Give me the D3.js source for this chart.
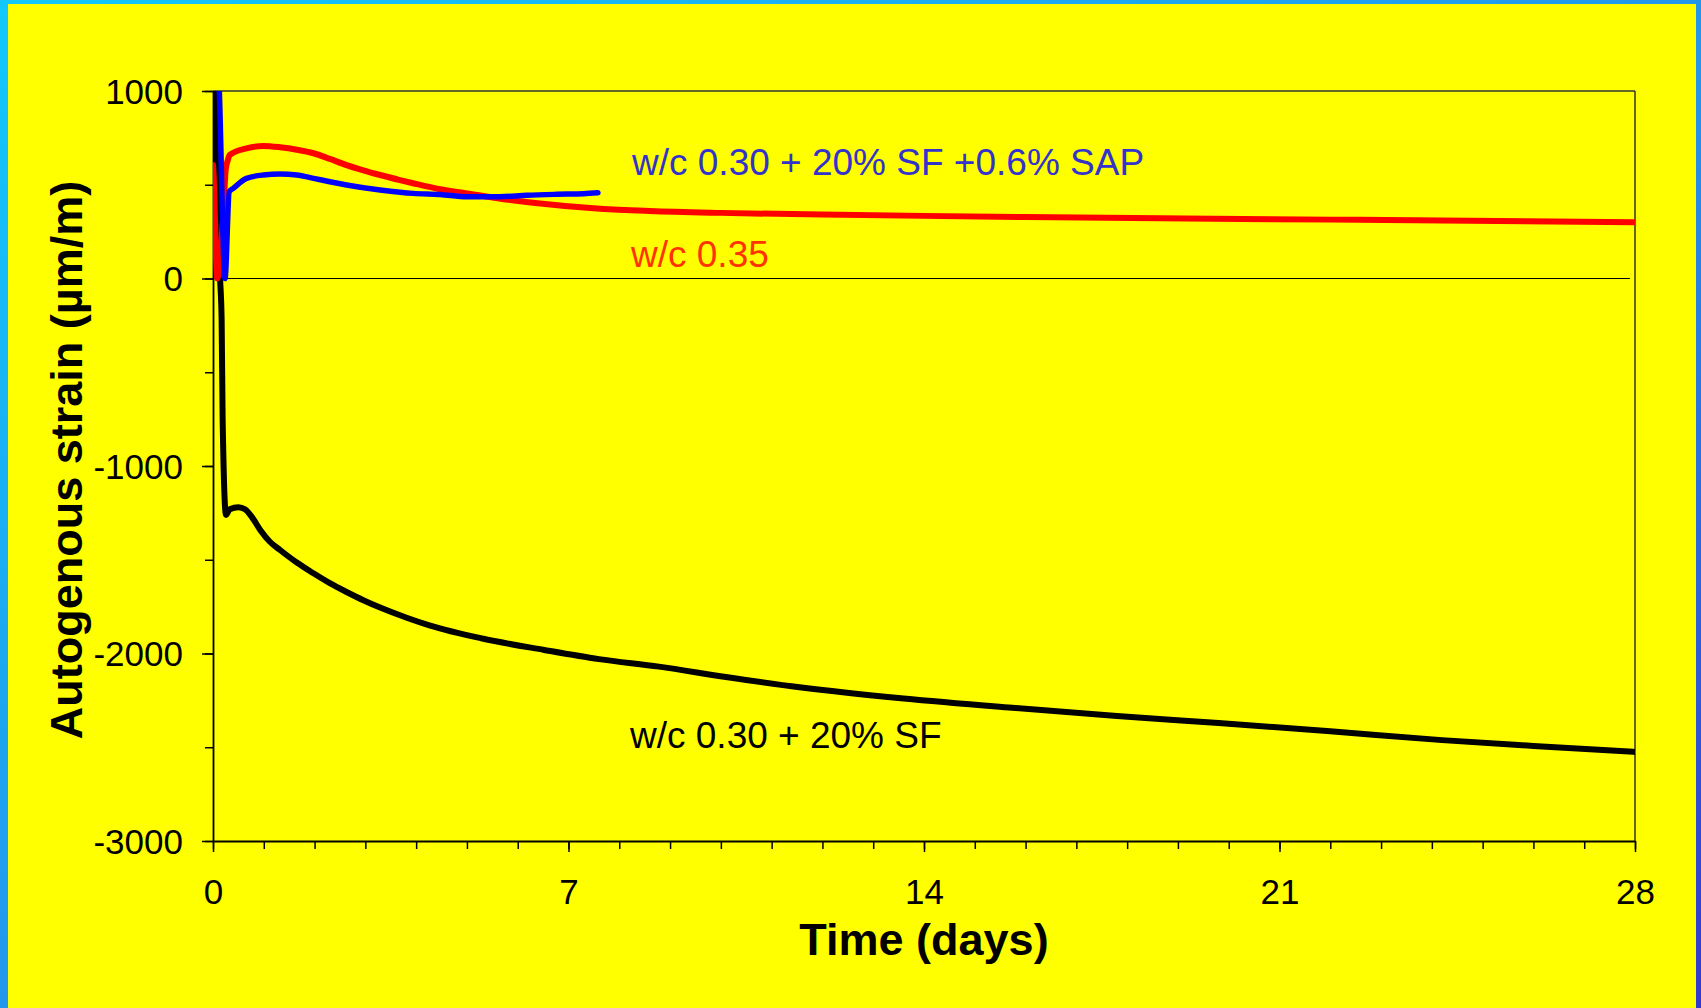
<!DOCTYPE html>
<html>
<head>
<meta charset="utf-8">
<script src="https://cdn.jsdelivr.net/npm/d3@7"></script>
<style>
  html, body { margin: 0; padding: 0; overflow: hidden; }
  svg { display: block; }
  text { font-family: "Liberation Sans", Arial, sans-serif; }
</style>
</head>
<body>
<svg id="chart" width="1701" height="1008"></svg>
<script>
// ---------- data ----------
const xTickLabels = [0, 7, 14, 21, 28];
const yTickLabels = [-3000, -2000, -1000, 0, 1000];

// w/c 0.35 (red)
const redDays   = [0, 0.01, 0.085, 0.2, 0.25, 0.29, 0.33, 0.66, 0.99, 1.32, 1.65, 1.98, 2.3, 2.63, 2.96, 3.29, 3.68, 3.94, 4.47, 5.0, 5.6, 6.3, 7.62, 8.6, 10, 12, 14, 16, 18.65, 22, 25.3, 28];
const redStrain = [605, 560, 0, 330, 580, 630, 659, 694, 707, 700, 687, 668, 638, 605, 577, 552, 525, 508, 476, 454, 428, 404, 372, 360, 350, 341, 334, 328, 321, 314, 307, 300];

// w/c 0.30 + 20% SF + 0.6% SAP (blue)
const blueDays   = [0.08, 0.125, 0.236, 0.32, 0.4, 0.66, 0.99, 1.32, 1.65, 1.98, 2.3, 2.63, 3.29, 3.68, 3.94, 4.47, 5.0, 5.65, 6.18, 6.77, 7.3, 7.58];
const blueStrain = [1300, 996, 0, 463, 481, 534, 552, 557, 552, 534, 516, 499, 472, 460, 454, 448, 436, 436, 444, 449, 452, 457];

// w/c 0.30 + 20% SF (black)
const blackDays   = [0.01, 0.04, 0.14, 0.17, 0.19, 0.256, 0.33, 0.5, 0.63, 0.76, 0.93, 1.12, 1.32, 1.65, 1.97, 2.3, 2.63, 2.96, 3.29, 3.8, 4.26, 5.3, 6.52, 7.6, 8.78, 10.1, 11.55, 13.6, 15.8, 17.8, 19.8, 22, 24.2, 26, 28];
const blackStrain = [1300, 1000, 0, -221, -754, -1261, -1231, -1220, -1231, -1270, -1341, -1404, -1448, -1515, -1571, -1625, -1672, -1716, -1755, -1808, -1850, -1920, -1981, -2030, -2070, -2125, -2180, -2240, -2291, -2333, -2371, -2415, -2462, -2493, -2525];

const seriesLabels = ["w/c 0.30 + 20% SF +0.6% SAP", "w/c 0.35", "w/c 0.30 + 20% SF"];

// ---------- drawing ----------
const svg = d3.select("#chart");
const W = 1701, H = 1008;

const defs = svg.append("defs");
const grad = defs.append("linearGradient").attr("id", "bg")
  .attr("x1", "0%").attr("y1", "0%").attr("x2", "100%").attr("y2", "100%");
grad.append("stop").attr("offset", "0%").attr("stop-color", "#12c8fb");
grad.append("stop").attr("offset", "55%").attr("stop-color", "#2592ea");
grad.append("stop").attr("offset", "100%").attr("stop-color", "#3338cc");

svg.append("rect").attr("width", W).attr("height", H).attr("fill", "url(#bg)");
svg.append("rect").attr("x", 8).attr("y", 4).attr("width", 1688).attr("height", H - 4).attr("fill", "#ffff00");

const x = d3.scaleLinear().domain([0, 28]).range([213, 1635]);
const y = d3.scaleLinear().domain([-3000, 1000]).range([841, 91]);

defs.append("clipPath").attr("id", "plotClip").append("rect")
  .attr("x", x(0)).attr("y", y(1000)).attr("width", x(28) - x(0)).attr("height", y(-3000) - y(1000));

// frame (top and right)
svg.append("line").attr("x1", x(0)).attr("x2", x(28)).attr("y1", y(1000)).attr("y2", y(1000))
  .attr("stroke", "#333").attr("stroke-width", 1.5);
svg.append("line").attr("x1", x(28)).attr("x2", x(28)).attr("y1", y(1000)).attr("y2", y(-3000))
  .attr("stroke", "#333").attr("stroke-width", 1.5);

// zero line
svg.append("line").attr("x1", x(0)).attr("x2", x(27.9)).attr("y1", y(0)).attr("y2", y(0))
  .attr("stroke", "#000").attr("stroke-width", 1.2);

// minor ticks
const yMinor = d3.range(-3000, 1001, 500);
const xMinor = d3.range(0, 29, 1);
const yMinorAxis = svg.append("g").attr("transform", `translate(${x(0)},0)`)
  .call(d3.axisLeft(y).tickValues(yMinor).tickSize(8).tickFormat(""));
yMinorAxis.select(".domain").remove();
const xMinorAxis = svg.append("g").attr("transform", `translate(0,${y(-3000)})`)
  .call(d3.axisBottom(x).tickValues(xMinor).tickSize(8).tickFormat(""));
xMinorAxis.select(".domain").remove();

// major axes
const fmt = d => String(d);
const yAxis = svg.append("g").attr("transform", `translate(${x(0)},0)`)
  .call(d3.axisLeft(y).tickValues(yTickLabels).tickSize(11).tickSizeOuter(0).tickPadding(19).tickFormat(fmt));
const xAxis = svg.append("g").attr("transform", `translate(0,${y(-3000)})`)
  .call(d3.axisBottom(x).tickValues(xTickLabels).tickSize(11).tickSizeOuter(0).tickPadding(0).tickFormat(fmt));

svg.selectAll(".tick line").attr("stroke", "#000").attr("stroke-width", 1.5);
svg.selectAll(".domain").attr("stroke", "#000").attr("stroke-width", 1.8);
yAxis.selectAll("text").attr("font-size", 35).attr("font-family", "Liberation Sans, Arial, sans-serif").attr("fill", "#000").attr("dy", "0.35em");
xAxis.selectAll("text").attr("font-size", 35).attr("font-family", "Liberation Sans, Arial, sans-serif").attr("fill", "#000")
  .attr("dy", null).attr("y", 63);

// lines
const line = d3.line().x(d => x(d[0])).y(d => y(d[1])).curve(d3.curveMonotoneX);
const plot = svg.append("g").attr("clip-path", "url(#plotClip)");
const series = [
  { days: blackDays, vals: blackStrain, color: "#000000", w: 6 },
  { days: redDays, vals: redStrain, color: "#ff0000", w: 6 },
  { days: blueDays, vals: blueStrain, color: "#0000ff", w: 5.5 }
];
series.forEach(s => {
  plot.append("path")
    .datum(s.days.map((d, i) => [d, s.vals[i]]))
    .attr("d", line)
    .attr("fill", "none")
    .attr("stroke", s.color)
    .attr("stroke-width", s.w)
    .attr("stroke-linejoin", "round")
    .attr("stroke-linecap", "round");
});

// series labels
svg.append("text").attr("x", 632).attr("y", 175).attr("font-size", 37).attr("fill", "#3333cc").text(seriesLabels[0]);
svg.append("text").attr("x", 631).attr("y", 267).attr("font-size", 37).attr("fill", "#ff3300").text(seriesLabels[1]);
svg.append("text").attr("x", 630).attr("y", 748).attr("font-size", 37).attr("fill", "#000").text(seriesLabels[2]);

// axis titles
svg.append("text").attr("x", 924).attr("y", 955).attr("text-anchor", "middle")
  .attr("font-size", 45).attr("font-weight", "bold").attr("fill", "#000").text("Time (days)");
svg.append("text").attr("transform", "translate(82,460) rotate(-90)").attr("text-anchor", "middle")
  .attr("font-size", 45).attr("font-weight", "bold").attr("fill", "#000").text("Autogenous strain (µm/m)");
</script>
</body>
</html>
